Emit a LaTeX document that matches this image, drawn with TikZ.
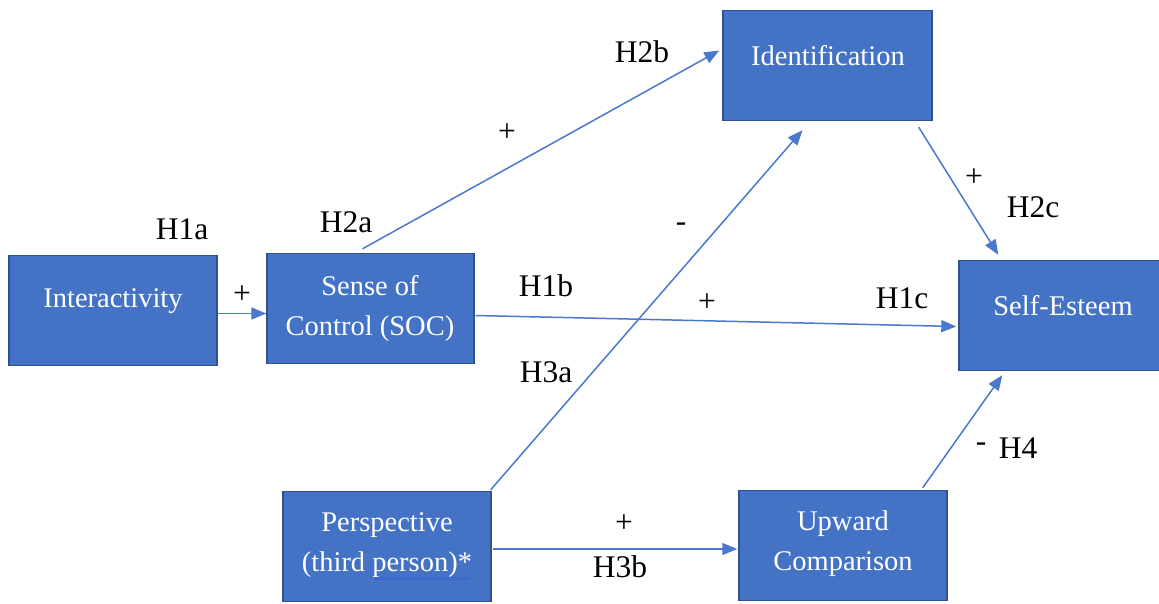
\documentclass[tikz,border=0pt]{standalone}
\usepackage{fontspec}
\setmainfont{Liberation Serif}
\usetikzlibrary{arrows.meta,calc}
\definecolor{boxfill}{HTML}{4472C4}
\definecolor{boxline}{HTML}{2F528F}
\definecolor{arrowc}{HTML}{4A78CC}
\definecolor{ulc}{HTML}{3A62D6}
\begin{document}
\begin{tikzpicture}[x=1pt,y=-1pt,
  boxnode/.style={draw=boxline,fill=boxfill,line width=1.4pt,inner sep=0pt,minimum width=#1,minimum height=110pt},
  boxnode/.default=207pt,
  boxtext/.style={text=white,font=\fontsize{28.5}{40}\selectfont,align=center,inner sep=0pt},
  lbl/.style={text=black,font=\fontsize{31.5}{36}\selectfont,inner sep=0pt},
  conn/.style={draw=arrowc,line width=1.5pt,-{Triangle[length=15pt,width=12pt]}}]
\useasboundingbox (0,0) rectangle (1159,603);
% boxes
\node[boxnode=208pt] (int) at (113,310.5) {};
\node[boxnode=207pt] (soc) at (370.5,308.5) {};
\node[boxnode=209pt] (idn) at (827.5,65.5) {};
\node[boxnode=205pt] (se) at (1061.5,315.5) {};
\node[boxnode=208pt] (per) at (387,546.5) {};
\node[boxnode=208pt] (up) at (843,545.5) {};
% box texts
\node[boxtext] (tint) at (113,301) {Interactivity};
\node[boxtext] (tsoc) at (370,308) {Sense of\\Control (SOC)};
\node[boxtext] (tidn) at (828,56) {Identification};
\node[boxtext] (tse) at (1063,306) {Self-Esteem};
\node[boxtext] (tper) at (387,545) {Perspective\\(third person)*};
\node[boxtext] (tup) at (843,544) {Upward\\Comparison};
% underline under "person)*"
\coordinate (ula) at (374,577);
\coordinate (ulb) at (470,577);
\draw[ulc,line width=0.8pt] (ula) -- (ulb);
\draw[ulc,line width=0.8pt] ($(ula)+(0,2.5)$) -- ($(ulb)+(0,2.5)$);
% connectors
\draw[conn] ($(int.east)+(0,3)$) -- ($(soc.west)+(0,5)$);
\draw[conn] ($(soc.north)+(-8,-4)$) -- ($(idn.west)+(-3,-15)$);
\draw[conn] ($(soc.east)+(1,7)$) -- ($(se.west)+(-2,11)$);
\draw[conn] ($(per.north east)+(-1,-1)$) -- ($(idn.south)+(-25,9)$);
\draw[conn] ($(per.east)+(1,2.5)$) -- ($(up.west)+(-1,3.5)$);
\draw[conn] ($(idn.south east)+(-14,6)$) -- ($(se.north west)+(40,-5)$);
\draw[conn] ($(up.north east)+(-25,-2)$) -- ($(se.south west)+(44,4)$);
% labels
\node[lbl] (l1) at (242,295) {+};
\node[lbl] (l2) at (182,229) {H1a};
\node[lbl] (l3) at (346,222) {H2a};
\node[lbl] (l4) at (507,133) {+};
\node[lbl] (l5) at (642,52) {H2b};
\node[lbl] (l6) at (546,286) {H1b};
\node[lbl] (l7) at (707,303) {+};
\node[lbl] (l8) at (902,298) {H1c};
\node[lbl] (l9) at (681,227) {-};
\node[lbl] (l10) at (546,372) {H3a};
\node[lbl] (l11) at (624,524) {+};
\node[lbl] (l12) at (620,567) {H3b};
\node[lbl] (l13) at (974,178) {+};
\node[lbl] (l14) at (1033,207) {H2c};
\node[lbl] (l15) at (981,447) {-};
\node[lbl] (l16) at (1018,448) {H4};
\end{tikzpicture}
\end{document}
